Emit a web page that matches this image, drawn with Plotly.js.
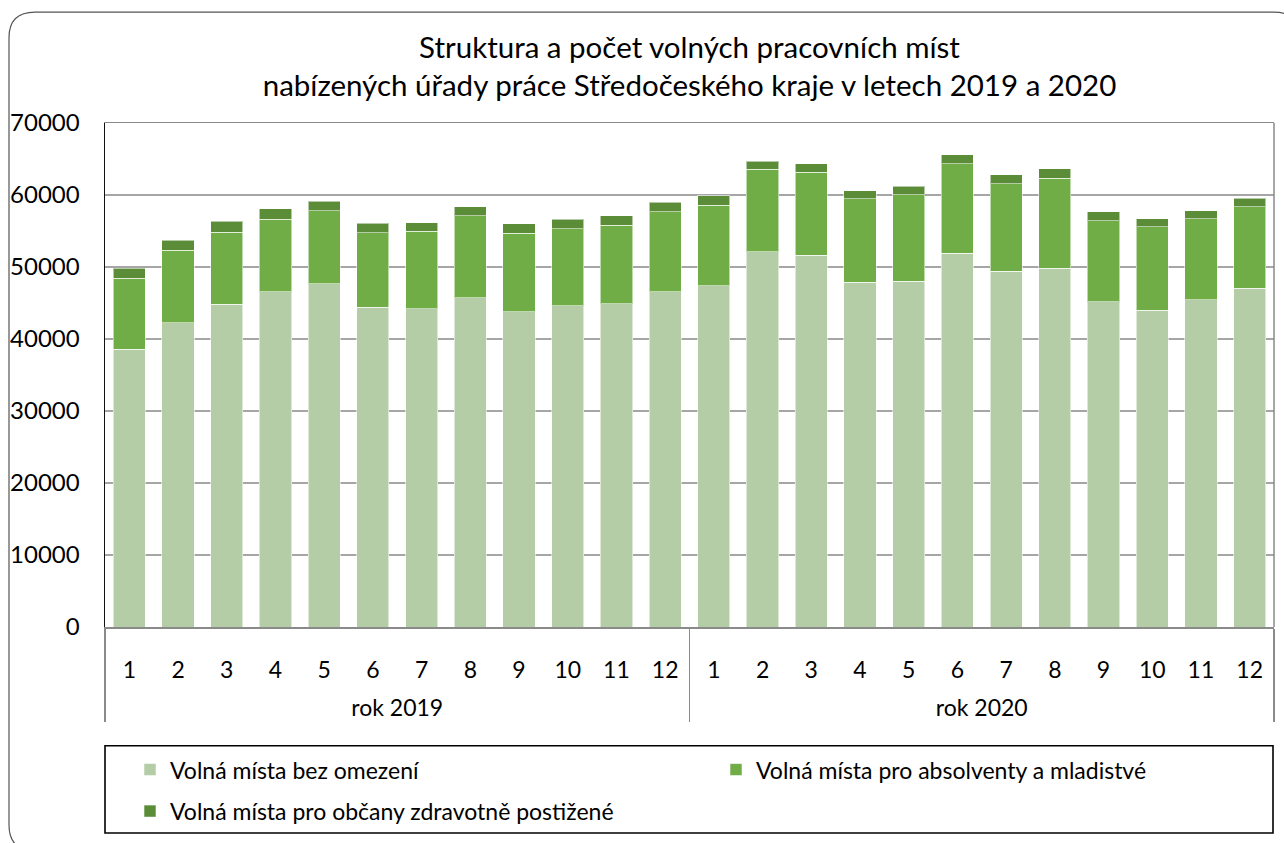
<!DOCTYPE html>
<html>
<head>
<meta charset="utf-8">
<script src="https://cdn.plot.ly/plotly-3.0.1.min.js"></script>
<style>html,body{margin:0;padding:0;background:#fff;}#chart{width:1284px;height:843px;}</style>
</head>
<body>
<div id="chart"></div>
<script>
// ---- data ----
const yearLabels = ['rok 2019','rok 2020'];
const monthLabels = ['1','2','3','4','5','6','7','8','9','10','11','12'];
const seriesNames = ['Volná místa bez omezení','Volná místa pro absolventy a mladistvé','Volná místa pro občany zdravotně postižené'];
const bezOmezeni2019 = [38600,42270,44820,46570,47670,44410,44230,45740,43820,44640,44920,46570];
const bezOmezeni2020 = [47390,52100,51650,47890,48030,51920,49410,49820,45190,43960,45470,47070];
const absolventi2019 = [9850,10070,10030,10030,10160,10360,10710,11400,10850,10670,10850,11080];
const absolventi2020 = [11220,11450,11500,11580,12000,12450,12130,12500,11260,11630,11220,11310];
const postizeni2019 = [1370,1370,1510,1470,1280,1280,1240,1240,1370,1330,1370,1370];
const postizeni2020 = [1320,1150,1190,1150,1190,1240,1240,1330,1190,1100,1150,1150];

// ---- build multicategory x (a blank trailing line under each month label adds room before the year row) ----
const xYears = [], xMonths = [];
yearLabels.forEach(y => monthLabels.forEach(m => {
  xYears.push(y);
  xMonths.push(m + '<br>&nbsp;');
}));
const xCat = [xYears, xMonths];

const colors = ['#b4cda6','#70ad47','#5b8c38'];
const FONT = 'Lato, "Open Sans", sans-serif';

const traces = [
  {y: bezOmezeni2019.concat(bezOmezeni2020), legend: 'legend'},
  {y: absolventi2019.concat(absolventi2020), legend: 'legend2'},
  {y: postizeni2019.concat(postizeni2020), legend: 'legend3'}
].map((t, i) => ({
  type: 'bar',
  x: xCat,
  y: t.y,
  name: seriesNames[i],
  legend: t.legend,
  marker: {color: colors[i], line: {color: 'rgba(255,255,255,0.55)', width: 1}},
  hoverinfo: 'y+name'
}));

// pixel -> paper helpers (plot area: x 105..1274, y 123..632)
const PL = 105, PR = 1274, PT = 123, PB = 632;
const px = v => (v - PL) / (PR - PL);
const py = v => (PB - v) / (PB - PT);

function roundedPath(l, t, r, b, rad) {
  const rx = rad / (PR - PL), ry = rad / (PB - PT);
  const L = px(l), T = py(t), R = px(r), B = py(b);
  return `M${L},${B + ry} L${L},${T - ry} Q${L},${T} ${L + rx},${T} L${R - rx},${T} Q${R},${T} ${R},${T - ry} L${R},${B + ry} Q${R},${B} ${R - rx},${B} L${L + rx},${B} Q${L},${B} ${L},${B + ry} Z`;
}

const legendBase = {
  orientation: 'h', bgcolor: 'rgba(0,0,0,0)', borderwidth: 0,
  font: {family: FONT, size: 23, color: '#000'},
  xanchor: 'left', yanchor: 'middle'
};

const layout = {
  width: 1284, height: 843,
  margin: {l: PL, r: 1284 - PR, t: PT, b: 843 - PB},
  paper_bgcolor: '#fff', plot_bgcolor: '#fff',
  barmode: 'stack', bargap: 0.34,
  title: {
    text: 'Struktura a počet volných pracovních míst<br>nabízených úřady práce Středočeského kraje v letech 2019 a 2020',
    font: {family: FONT, size: 29.5, color: '#000'},
    x: 0.5, xref: 'paper', xanchor: 'center',
    y: 1 - 58 / 843, yref: 'container', yanchor: 'middle'
  },
  xaxis: {
    type: 'multicategory',
    tickfont: {family: FONT, size: 23, color: '#000'},
    showline: true, linecolor: '#8a8a8a', linewidth: 1.5, mirror: true,
    showdividers: true, dividercolor: '#8a8a8a', dividerwidth: 1.5,
    ticks: '', showgrid: false, ticklabelstandoff: 22
  },
  yaxis: {
    range: [0, 70000], dtick: 10000, tick0: 0,
    tickfont: {family: FONT, size: 24, color: '#000'},
    showline: true, linecolor: '#111', linewidth: 1.5,
    gridcolor: '#a6a6a6', gridwidth: 1.5, zeroline: false,
    ticks: '', ticklabelstandoff: 19, tickformat: 'd'
  },
  legend: Object.assign({}, legendBase, {x: px(130), y: py(776)}),
  legend2: Object.assign({}, legendBase, {x: px(716), y: py(776)}),
  legend3: Object.assign({}, legendBase, {x: px(130), y: py(818)}),
  shapes: [
    {type: 'line', xref: 'paper', yref: 'paper', x0: 1, x1: 1, y0: 0, y1: 1, line: {color: '#8a8a8a', width: 1.5}},
    {type: 'rect', xref: 'paper', yref: 'paper', x0: px(105), x1: px(1273), y0: py(752), y1: py(840), line: {color: '#000', width: 1.6}, fillcolor: 'rgba(0,0,0,0)'},
    {type: 'path', xref: 'paper', yref: 'paper', path: roundedPath(9, 11, 1300, 858, 26), line: {color: '#555', width: 1.2}, fillcolor: 'rgba(0,0,0,0)'}
  ],
  showlegend: true
};

Plotly.newPlot('chart', traces, layout, {displayModeBar: false, staticPlot: true});
</script>
</body>
</html>
